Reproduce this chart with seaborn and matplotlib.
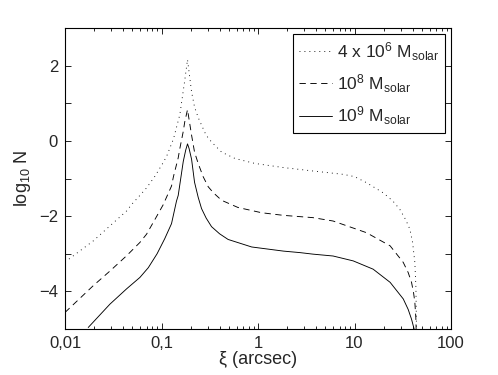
import matplotlib
matplotlib.use("Agg")
import matplotlib.pyplot as plt
import matplotlib.ticker as mticker
import seaborn as sns
import pandas as pd

# ---- data ----
x_4e6 = [0.01, 0.0196, 0.0292, 0.0436, 0.049, 0.0597, 0.070, 0.085, 0.104, 0.113, 0.133, 0.155,
         0.174, 0.186, 0.205, 0.22, 0.24, 0.26, 0.29, 0.33, 0.42, 0.58, 0.93, 1.84, 2.73, 3.7,
         7.66, 10.0, 13.3, 19.8, 25.0, 29.5, 34.0, 37.5, 40.0, 42.2, 43.3, 43.9]
y_4e6 = [-3.22, -2.66, -2.26, -1.86, -1.69, -1.45, -1.25, -0.95, -0.58, -0.41, 0.05, 0.70,
         1.60, 2.16, 1.30, 0.90, 0.62, 0.42, 0.15, -0.03, -0.30, -0.47, -0.60, -0.71, -0.76, -0.80,
         -0.89, -0.95, -1.11, -1.38, -1.60, -1.82, -2.10, -2.35, -2.70, -3.23, -3.90, -5.0]

x_1e8 = [0.01, 0.0196, 0.0292, 0.0436, 0.0597, 0.070, 0.085, 0.104, 0.127, 0.133, 0.149, 0.155,
         0.168, 0.174, 0.186, 0.205, 0.22, 0.24, 0.27, 0.305, 0.345, 0.42, 0.62, 1.09, 1.84, 3.7,
         6.0, 13.3, 23.4, 32.0, 36.0, 39.0, 41.0, 42.2, 43.2, 43.5]
y_1e8 = [-4.56, -3.85, -3.46, -3.05, -2.70, -2.48, -2.10, -1.70, -1.20, -0.95, -0.45, -0.20,
         0.25, 0.50, 0.83, 0.15, -0.30, -0.60, -0.95, -1.22, -1.38, -1.58, -1.77, -1.91, -1.98, -2.04,
         -2.13, -2.44, -2.79, -3.23, -3.50, -3.76, -4.05, -4.29, -4.70, -5.0]

x_1e9 = [0.0174, 0.0292, 0.0436, 0.0597, 0.073, 0.09, 0.108, 0.127, 0.143, 0.149, 0.168, 0.178,
         0.186, 0.193, 0.205, 0.22, 0.24, 0.26, 0.29, 0.33, 0.40, 0.49, 0.86, 1.84, 2.73, 3.7,
         6.0, 9.7, 15.6, 23.4, 32.0, 36.0, 39.0, 40.5, 41.5]
y_1e9 = [-4.96, -4.34, -3.93, -3.63, -3.37, -3.00, -2.60, -2.20, -1.60, -1.45, -0.55, -0.25,
         -0.08, -0.20, -0.49, -1.10, -1.50, -1.80, -2.05, -2.28, -2.47, -2.62, -2.82, -2.93, -2.97, -3.01,
         -3.06, -3.19, -3.41, -3.76, -4.20, -4.48, -4.74, -4.90, -5.0]

labels = [r"4 x 10$^{6}$ M$_{\mathrm{solar}}$", r"10$^{8}$ M$_{\mathrm{solar}}$", r"10$^{9}$ M$_{\mathrm{solar}}$"]
xtick_vals = [0.01, 0.1, 1, 10, 100]
xtick_labels = ["0,01", "0,1", "1", "10", "100"]
ytick_vals = [-5, -4, -3, -2, -1, 0, 1, 2, 3]
ytick_labels = ["", "\u22124", "", "\u22122", "", "0", "", "2", ""]

sns.set_style("ticks")
plt.rcParams["font.family"] = ["Liberation Sans", "DejaVu Sans"]
plt.rcParams["mathtext.fontset"] = "custom"
plt.rcParams["mathtext.rm"] = "Liberation Sans"
plt.rcParams["mathtext.it"] = "Liberation Sans:italic"
plt.rcParams["axes.unicode_minus"] = True

fig = plt.figure(figsize=(4.98, 3.75), dpi=100)
ax = fig.add_axes([65 / 498, 46 / 375, 386 / 498, 301 / 375])

series = [(x_4e6, y_4e6, (0, (1, 4.5)), labels[0]),
          (x_1e8, y_1e8, (0, (7, 5)), labels[1]),
          (x_1e9, y_1e9, "-", labels[2])]
for xs, ys, ls, lab in series:
    df = pd.DataFrame({"x": xs, "y": ys})
    sns.lineplot(data=df, x="x", y="y", ax=ax, color="black", linestyle=ls,
                 linewidth=0.65, label=lab, sort=False, estimator=None)

ax.set_xscale("log")
ax.set_xlim(0.01, 100)
ax.set_ylim(-5, 3)
ax.set_xticks(xtick_vals)
ax.xaxis.set_major_formatter(mticker.FixedFormatter(xtick_labels))
ax.xaxis.set_minor_locator(mticker.LogLocator(base=10, subs=range(2, 10), numticks=20))
ax.xaxis.set_minor_formatter(mticker.NullFormatter())
ax.set_yticks(ytick_vals)
ax.set_yticklabels(ytick_labels)

ax.tick_params(which="both", direction="in", top=True, right=True, labelsize=12,
               color="black", width=0.6)
ax.tick_params(which="major", length=4, pad=5)
ax.tick_params(which="minor", length=2.5)
for sp in ax.spines.values():
    sp.set_visible(True)
    sp.set_linewidth(0.8)
    sp.set_color("black")

ax.set_xlabel("\u03be (arcsec)", fontsize=13, labelpad=0)
ax.set_ylabel(r"log$_{10}$ N", fontsize=13, labelpad=4)

leg = ax.legend(loc="upper right", bbox_to_anchor=(1 - 6 / 386, 1 - 6 / 301),
                borderaxespad=0, fontsize=12.5, frameon=True, fancybox=False,
                framealpha=1, edgecolor="black", handlelength=1.9,
                labelspacing=0.55, borderpad=0.35, handletextpad=0.25)
leg.get_frame().set_linewidth(0.8)

fig.savefig("out.png", dpi=100)
